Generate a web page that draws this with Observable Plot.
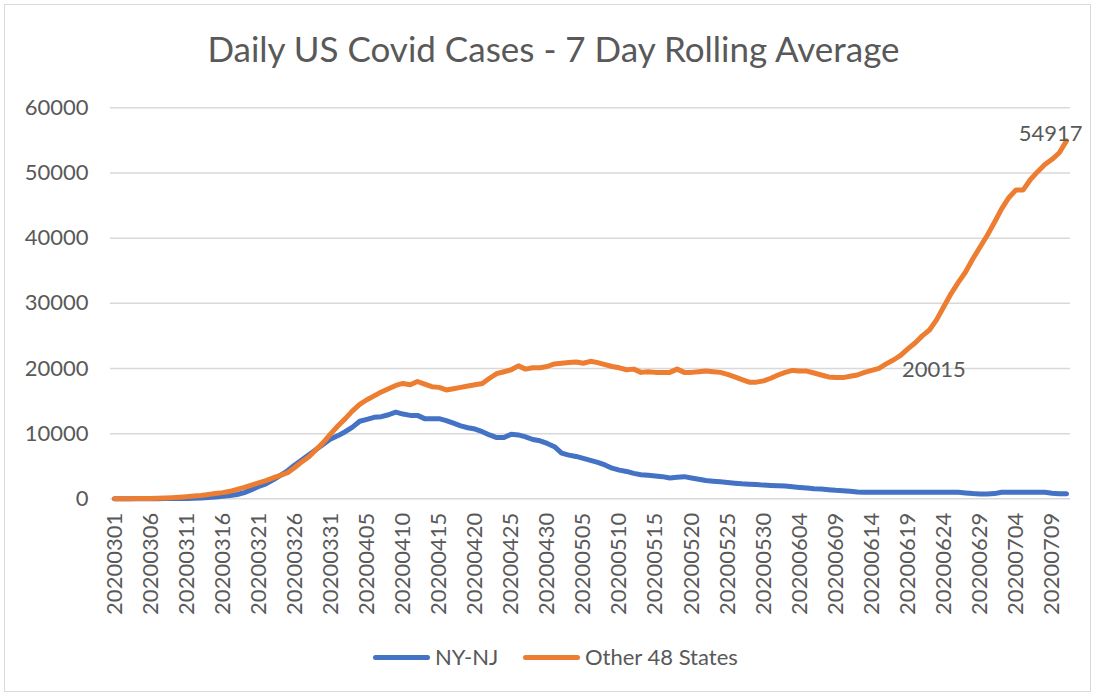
<!DOCTYPE html>
<html><head><meta charset="utf-8">
<script src="https://cdn.jsdelivr.net/npm/d3@7"></script>
<script src="https://cdn.jsdelivr.net/npm/@observablehq/plot@0.6"></script>
<style>
html,body{margin:0;padding:0;background:#fff;}
#wrap{position:relative;width:1093px;height:696px;overflow:hidden;font-family:Lato,sans-serif;background:#fff;}
#frame{position:absolute;left:4px;top:4px;width:1087px;height:688px;border:1.5px solid #d9d9d9;box-sizing:border-box;}
#title{position:absolute;left:0;width:1107px;top:27px;text-align:center;font-size:35px;line-height:42px;color:#595959;white-space:nowrap;}
#chart{position:absolute;left:0;top:90px;}
.leg{position:absolute;top:645px;font-size:22px;line-height:24px;color:#595959;white-space:nowrap;}
.sw{position:absolute;top:655px;height:5px;border-radius:2.5px;}
</style></head>
<body>
<div id="wrap">
  <div id="frame"></div>
  <div id="title">Daily US Covid Cases - 7 Day Rolling Average</div>
  <div id="chart"></div>
  <div id="legend"></div>
</div>
<script>
// Categories: daily dates 2020-03-01 .. 2020-07-11
const startDate = "20200301";
const endDate = "20200711";
const dates = d3.utcDay.range(d3.utcParse("%Y%m%d")(startDate), d3.utcDay.offset(d3.utcParse("%Y%m%d")(endDate), 1)).map(d3.utcFormat("%Y%m%d"));

// Tick labels on the category axis
const xTickLabels = ["20200301","20200306","20200311","20200316","20200321","20200326","20200331",
  "20200405","20200410","20200415","20200420","20200425","20200430","20200505","20200510",
  "20200515","20200520","20200525","20200530","20200604","20200609","20200614","20200619",
  "20200624","20200629","20200704","20200709"];
const yTicks = [0, 10000, 20000, 30000, 40000, 50000, 60000];

const seriesNames = ["NY-NJ", "Other 48 States"];
const seriesColors = ["#4472C4", "#ED7D31"];

// NY-NJ 7-day average
const nynj = [
  0, 0, 1, 2, 5, 10, 20, 30, 40, 50,
  60, 90, 130, 200, 280, 380, 500, 660, 950, 1400,
  1900, 2300, 2900, 3600, 4300, 5200, 6000, 6800, 7600, 8400,
  9200, 9700, 10300, 11000, 11900, 12200, 12500, 12600, 12900, 13300,
  13000, 12800, 12800, 12300, 12300, 12300, 12000, 11600, 11200, 10900,
  10700, 10300, 9800, 9400, 9400, 9900, 9800, 9500, 9100, 8900,
  8500, 8000, 7000, 6700, 6500, 6200, 5900, 5600, 5200, 4700,
  4400, 4200, 3900, 3700, 3600, 3500, 3400, 3200, 3300, 3400,
  3200, 3000, 2800, 2700, 2600, 2500, 2400, 2300, 2250, 2200,
  2100, 2050, 2000, 1950, 1850, 1750, 1650, 1550, 1500, 1400,
  1300, 1250, 1150, 1050, 1000, 1000, 1000, 1000, 1000, 1000,
  1000, 1000, 1000, 1000, 1000, 1000, 1000, 1000, 900, 800,
  750, 750, 800, 1000, 1000, 1000, 1000, 1000, 1000, 1000,
  850, 780, 760
];

// Other 48 States 7-day average
const other48 = [
  10, 15, 20, 30, 40, 60, 90, 130, 180, 240,
  320, 420, 520, 650, 800, 950, 1150, 1450, 1750, 2100,
  2450, 2800, 3200, 3600, 4000, 4800, 5700, 6500, 7600, 8700,
  10000, 11200, 12300, 13500, 14500, 15200, 15800, 16400, 16900, 17400,
  17700, 17500, 18000, 17600, 17200, 17100, 16700, 16900, 17100, 17300,
  17500, 17700, 18500, 19200, 19500, 19800, 20400, 19900, 20100, 20100,
  20300, 20700, 20800, 20900, 21000, 20800, 21100, 20900, 20600, 20300,
  20100, 19800, 19900, 19400, 19500, 19400, 19400, 19400, 19900, 19400,
  19400, 19500, 19600, 19500, 19400, 19100, 18700, 18300, 17900, 17900,
  18100, 18500, 19000, 19400, 19700, 19600, 19600, 19300, 19000, 18700,
  18600, 18600, 18800, 19000, 19400, 19700, 20015, 20700, 21300, 22000,
  23000, 23900, 25000, 25900, 27500, 29500, 31500, 33200, 34800, 36800,
  38600, 40400, 42400, 44500, 46200, 47400, 47400, 49000, 50200, 51300,
  52100, 53100, 54917
];

// Data labels shown on the orange series
const labelledDates = ["20200615", "20200711"];

const rows = [];
dates.forEach((d, i) => rows.push({date: d, value: nynj[i], series: seriesNames[0]}));
dates.forEach((d, i) => rows.push({date: d, value: other48[i], series: seriesNames[1]}));
const labels = labelledDates.map(d => ({date: d, value: other48[dates.indexOf(d)]}));

const plot = Plot.plot({
  width: 1093,
  height: 550,
  marginLeft: 110,
  marginRight: 23,
  marginTop: 17.3,
  marginBottom: 141.7,
  x: {type: "point", domain: dates, padding: 0, round: false, inset: 4},
  y: {domain: [0, 60000]},
  color: {domain: seriesNames, range: seriesColors},
  style: {fontFamily: "Lato, sans-serif", color: "#595959", background: "transparent", overflow: "visible"},
  marks: [
    Plot.gridY(yTicks, {stroke: "#d9d9d9", strokeOpacity: 1, strokeWidth: 1.5}),
    Plot.axisY(yTicks, {tickSize: 0, tickPadding: 22, tickFormat: d => String(d), fontSize: 22, fill: "#595959", label: null}),
    Plot.axisX(xTickLabels, {tickSize: 0, tickRotate: -90, tickPadding: 14, fontSize: 22, fill: "#595959", label: null}),
    Plot.line(rows, {x: "date", y: "value", z: "series", stroke: "series", strokeWidth: 5, strokeLinecap: "round", strokeLinejoin: "round"}),
    Plot.text(labels.slice(0, 1), {x: "date", y: "value", text: d => String(d.value), textAnchor: "start", dx: 23, dy: 2, fontSize: 22, fill: "#595959"}),
    Plot.text(labels.slice(1), {x: "date", y: "value", text: d => String(d.value), textAnchor: "end", dx: 16, dy: -7, fontSize: 22, fill: "#595959"})
  ]
});
document.getElementById("chart").appendChild(plot);

// Legend built from series names/colors
const legend = document.getElementById("legend");
const legPos = [{sw: 373, tx: 435}, {sw: 523, tx: 585}];
seriesNames.forEach((name, i) => {
  const sw = document.createElement("div");
  sw.className = "sw";
  sw.style.left = legPos[i].sw + "px";
  sw.style.width = "57px";
  sw.style.background = seriesColors[i];
  legend.appendChild(sw);
  const tx = document.createElement("div");
  tx.className = "leg";
  tx.style.left = legPos[i].tx + "px";
  tx.textContent = name;
  legend.appendChild(tx);
});
</script>
</body></html>
